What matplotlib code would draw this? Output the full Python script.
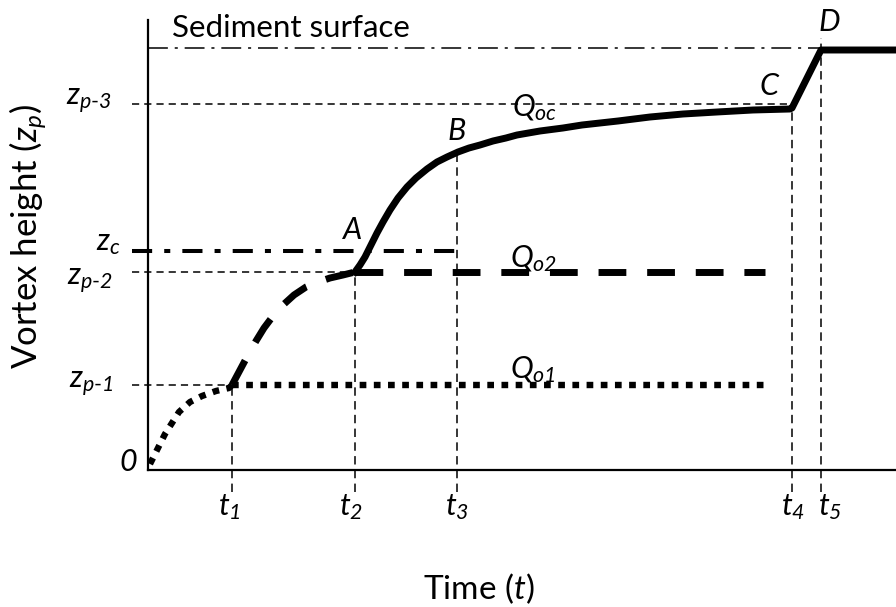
import numpy as np
import matplotlib
matplotlib.use('Agg')
import matplotlib.pyplot as plt

plt.rcParams['font.family'] = ['Lato', 'DejaVu Sans']
plt.rcParams['mathtext.fontset'] = 'custom'
plt.rcParams['mathtext.rm'] = 'Lato'
plt.rcParams['mathtext.it'] = 'Lato:italic'
plt.rcParams['mathtext.cal'] = 'Lato:italic'   # used for italic digits in subscripts

# key times t1..t5 and the height where each vertical guide starts
t_marks = [84, 207, 309, 644, 673]
t_labels = [r'$t_{\mathcal{1}}$', r'$t_{\mathcal{2}}$', r'$t_{\mathcal{3}}$',
            r'$t_{\mathcal{4}}$', r'$t_{\mathcal{5}}$']
guide_top = [85, 198, 318, 362, 432]

# key heights
z_p1 = 85
z_p2 = 198
z_c = 219
z_p3 = 366
z_sed = 422
t_end = 748      # right edge of time axis
t_q_end = 617    # where the Q_o1 / Q_o2 plateaus stop

# curve for Q_o1 (0 -> t1)
dot_t = [2, 4, 10, 17, 24, 31, 42, 54, 68, 81, 84]
dot_z = [6, 10, 22, 36, 47, 58, 68, 74, 79, 82, 85]

# curve for Q_o2 (t1 -> t2)
dash_t = [84, 92, 100, 108, 116, 125, 135, 146, 158, 170, 182, 195, 207]
dash_z = [85, 100, 115, 129, 142, 154, 165, 175, 183, 188, 192, 195, 198]

# curve for Q_oc (t2 -> B -> C -> D -> end)
solid_t = [207, 212, 217, 223, 229, 235, 242, 250, 259, 268, 279, 289, 299, 310, 321, 332,
           345, 358, 369, 392, 415, 434, 470, 502, 535, 569, 605, 642, 644, 673, 748]
solid_z = [198, 205, 213, 225, 237, 248, 260, 272, 283, 292, 301, 308, 313, 318, 322, 325,
           329, 332, 335, 339, 342, 345, 349, 353, 356, 358, 360, 361, 362, 420, 420]

fig = plt.figure(figsize=(8.96, 6.07), dpi=100)
ax = fig.add_axes([148/896, 137/607, 748/896, 450/607])
ax.set_xlim(0, t_end)
ax.set_ylim(0, 450)
for s in ['top', 'right']:
    ax.spines[s].set_visible(False)
for s in ['left', 'bottom']:
    ax.spines[s].set_linewidth(1.6)
ax.set_xticks([])
ax.set_yticks([])

thin = dict(color='black', lw=1.1, clip_on=False)

# horizontal guides
ax.plot([-16, t_marks[0]], [z_p1, z_p1], dashes=(4.7, 3.3), **thin)
ax.plot([-16, t_marks[1]], [z_p2, z_p2], dashes=(4.7, 3.3), **thin)
ax.plot([-16, t_marks[3]], [z_p3, z_p3], dashes=(4.7, 3.3), **thin)
ax.plot([0, t_marks[4]], [z_sed, z_sed], dashes=(13, 4.5, 2, 4.5), **thin)

# vertical guides
for t, top in zip(t_marks, guide_top):
    ax.plot([t, t], [-22, top], dashes=(5.5, 3.5), **thin)

# critical height
ax.plot([-16, t_marks[2]], [z_c, z_c], color='black', lw=2.9,
        dashes=(5, 3, 1.5, 3), dash_capstyle='butt', clip_on=False)

# Q_o1
ax.plot(dot_t, dot_z, color='black', lw=4.6, dashes=(1.05, 1.17), dash_capstyle='butt')
ax.plot([t_marks[0], t_q_end], [z_p1, z_p1], color='black', lw=4.6,
        dashes=(1.05, 1.17), dash_capstyle='butt')

# Q_o2
ax.plot(dash_t, dash_z, color='black', lw=5, dashes=(4.0, 3.0), dash_capstyle='butt')
ax.plot([t_marks[1], t_q_end], [z_p2, z_p2], color='black', lw=5,
        dashes=(4.0, 3.0), dash_capstyle='butt')

# Q_oc
ax.plot(solid_t, solid_z, color='black', lw=5, solid_joinstyle='round', clip_on=False)

fs = 22
ax.text(24, 442, 'Sediment surface', fontsize=22.5, ha='left', va='center')

# y labels
ax.text(-36, z_p3 + 3, r'$z_{p\text{-}\mathcal{3}}$', fontsize=fs, ha='right', va='center')
ax.text(-28, z_c + 8, '$z_c$', fontsize=fs, ha='right', va='center')
ax.text(-35, z_p2 - 9, r'$z_{p\text{-}\mathcal{2}}$', fontsize=fs, ha='right', va='center')
ax.text(-35, z_p1 + 1, r'$z_{p\text{-}\mathcal{1}}$', fontsize=fs, ha='right', va='center')
ax.text(-11, 8, '0', fontsize=fs, ha='right', va='center', style='italic')

# t labels
offs = [-3, -4, 0, 1, 9]
for t, lab, o in zip(t_marks, t_labels, offs):
    ax.text(t + o, -37, lab, fontsize=fs, ha='center', va='center')

# point and curve labels
ax.text(203, 240, '$A$', fontsize=fs, ha='center', va='center')
ax.text(309, 339, '$B$', fontsize=fs, ha='center', va='center')
ax.text(622, 384, '$C$', fontsize=fs, ha='center', va='center')
ax.text(681, 448, '$D$', fontsize=fs, ha='center', va='center')
ax.text(364, 362, '$Q_{oc}$', fontsize=fs, ha='left', va='center')
ax.text(362, 211, r'$Q_{o\mathcal{2}}$', fontsize=fs, ha='left', va='center')
ax.text(362, 100, r'$Q_{o\mathcal{1}}$', fontsize=fs, ha='left', va='center')

# axis titles
ax.text(-120, 234, 'Vortex height ($z_p$)', fontsize=25, rotation=90, ha='center', va='center')
ax.text(331, -119, 'Time ($t$)', fontsize=24, ha='center', va='center')

fig.savefig('out.png', dpi=100)
